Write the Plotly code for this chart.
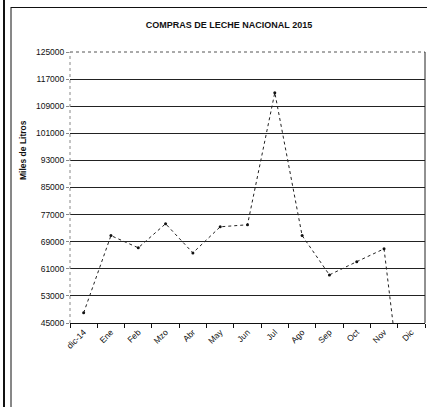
import plotly.graph_objects as go

categories = ["dic-14", "Ene", "Feb", "Mzo", "Abr", "May", "Jun", "Jul", "Ago", "Sep", "Oct", "Nov", "Dic"]
compras = [48000, 70800, 67200, 74300, 65700, 73400, 74000, 113000, 70800, 59200, 63100, 66900, 0]
y_ticks = [45000, 53000, 61000, 69000, 77000, 85000, 93000, 101000, 109000, 117000, 125000]
title_text = "COMPRAS DE LECHE NACIONAL 2015"
y_title = "Miles de Litros"

W, H = 427, 407
L, R, T, B = 70, 2, 52, 84
pw, ph = W - L - R, H - T - B

def px(x):
    return (x - L) / pw

def py(y):
    return (H - B - y) / ph

FONT = "Liberation Sans, Arial, sans-serif"

fig = go.Figure()
fig.add_trace(go.Scatter(
    x=categories, y=compras, mode="lines+markers",
    line=dict(color="#222222", width=1, dash="dot"),
    marker=dict(size=3, color="#111111"),
    cliponaxis=True, showlegend=False,
))

shapes = [
    dict(type="line", xref="paper", yref="paper", x0=0, x1=1, y0=1, y1=1,
         line=dict(color="white", width=2), layer="above"),
    dict(type="line", xref="paper", yref="paper", x0=0, x1=1, y0=1, y1=1,
         line=dict(color="#555555", width=1, dash="dot"), layer="above"),
    dict(type="line", xref="paper", yref="paper", x0=0, x1=0, y0=0, y1=1,
         line=dict(color="#888888", width=1, dash="dot"), layer="above"),
    dict(type="line", xref="paper", yref="paper", x0=1, x1=1, y0=0, y1=1,
         line=dict(color="#222222", width=1), layer="above"),
    dict(type="line", xref="paper", yref="paper", x0=px(11), x1=px(11), y0=py(7), y1=py(410),
         line=dict(color="#111111", width=1)),
    dict(type="line", xref="paper", yref="paper", x0=px(11), x1=px(430), y0=py(7.5), y1=py(7.5),
         line=dict(color="#111111", width=1)),
    dict(type="line", xref="paper", yref="paper", x0=px(4), x1=px(4), y0=py(0), y1=py(410),
         line=dict(color="#111111", width=2)),
]

fig.update_layout(
    width=W, height=H,
    margin=dict(l=L, r=R, t=T, b=B, pad=0),
    paper_bgcolor="white", plot_bgcolor="white",
    font=dict(family=FONT, color="#111111", size=9),
    title=dict(text="<b>" + title_text + "</b>", xref="container", x=229 / W, xanchor="center",
               yref="container", y=1 - 25 / H, yanchor="middle",
               font=dict(size=9, family=FONT, color="#111111")),
    xaxis=dict(
        type="category", categoryorder="array", categoryarray=categories,
        range=[-0.5, len(categories) - 0.5],
        showgrid=False, showline=True, linecolor="#111111", linewidth=1,
        ticks="outside", tickson="boundaries", ticklen=4, tickcolor="#111111",
        tickangle=-45, tickfont=dict(size=8.5, family=FONT, color="#111111"),
        zeroline=False,
    ),
    yaxis=dict(
        range=[45000, 125000], tickvals=y_ticks, ticktext=[str(v) for v in y_ticks],
        showgrid=True, gridcolor="#222222", gridwidth=1,
        showline=False, zeroline=False,
        ticks="outside", ticklen=3, tickcolor="#888888",
        tickfont=dict(size=8.5, family=FONT, color="#111111"),
    ),
    shapes=shapes,
    annotations=[dict(
        text="<b>" + y_title + "</b>", textangle=-90, xref="paper", yref="paper",
        x=px(23), y=py(150), xanchor="center", yanchor="middle", showarrow=False,
        font=dict(size=8.5, family=FONT, color="#111111"),
    )],
)

fig.write_html("out.html", config={"displayModeBar": False},
               post_script="document.body.style.margin='0';")
